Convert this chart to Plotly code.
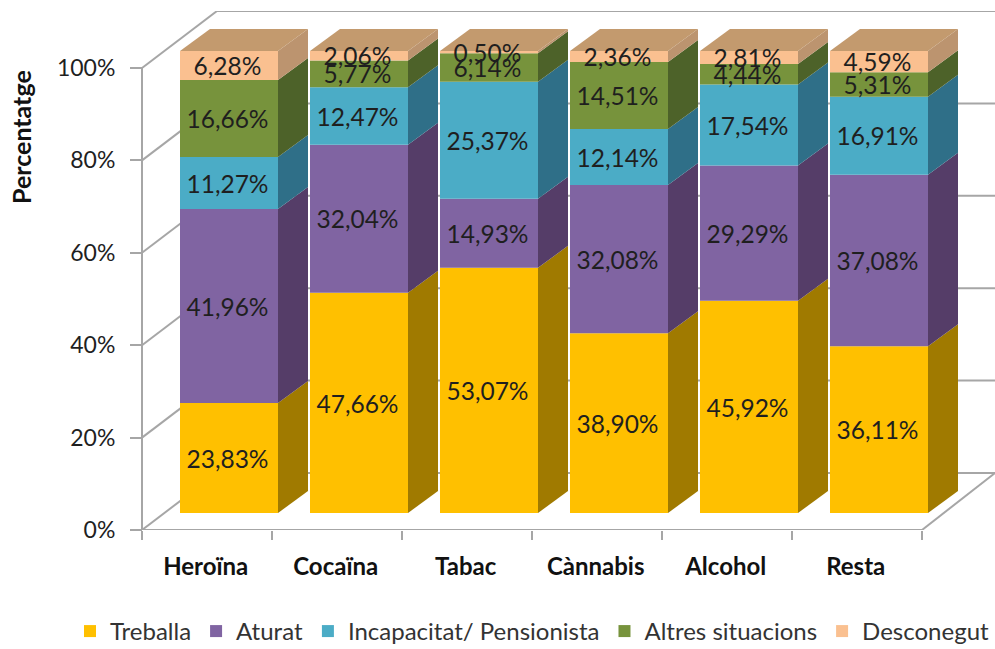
import plotly.graph_objects as go

categories = ["Heroïna", "Cocaïna", "Tabac", "Cànnabis", "Alcohol", "Resta"]
treballa = [23.83, 47.66, 53.07, 38.90, 45.92, 36.11]
aturat = [41.96, 32.04, 14.93, 32.08, 29.29, 37.08]
incapacitat = [11.27, 12.47, 25.37, 12.14, 17.54, 16.91]
altres = [16.66, 5.77, 6.14, 14.51, 4.44, 5.31]
desconegut = [6.28, 2.06, 0.50, 2.36, 2.81, 4.59]
y_ticks = [0, 20, 40, 60, 80, 100]

series = [
    ("Treballa", treballa, "#FFC000", "#A07A00"),
    ("Aturat", aturat, "#8064A2", "#553D68"),
    ("Incapacitat/ Pensionista", incapacitat, "#4BACC6", "#2F6F88"),
    ("Altres situacions", altres, "#77933C", "#4D6229"),
    ("Desconegut", desconegut, "#FAC090", "#BC946F"),
]
TOP_COLOR = "#C39A6E"
GRID = "#A6A6A6"
TEXT = "#1F1F1F"
FONT = "Lato"

# scale of the axes, in pixels per unit
W, H = 995, 649
AX_L, M_B, M_T = 142, 119, 11
PX_X, PX_Y = 130.0, 4.62
x_min = -AX_L / PX_X
x_max = (W - AX_L) / PX_X
y_max = (H - M_B - M_T) / PX_Y

# oblique projection expressed in axis units
wall_dx, wall_dy = 75 / PX_X, 57 / PX_Y
bar_off_x, bar_off_y = 38 / PX_X, 17 / PX_Y
bar_w = 98 / PX_X
depth_dx, depth_dy = 30 / PX_X, 22 / PX_Y
label_dx = -1.5 / PX_X
label_dy = -3.5 / PX_Y

fig = go.Figure()
n = len(categories)
lefts = [i + bar_off_x for i in range(n)]
centers = [l + bar_w / 2 for l in lefts]

# walls and floor
shapes = []
def seg(x0, y0, x1, y1):
    shapes.append(dict(type="line", x0=x0, y0=y0, x1=x1, y1=y1, layer="below",
                       line=dict(color=GRID, width=2)))
for t in y_ticks:
    seg(0, t, wall_dx, t + wall_dy)
    seg(wall_dx, t + wall_dy, x_max, t + wall_dy)
seg(n, 0, x_max, wall_dy)

# axis lines
fig.add_trace(go.Scatter(x=[0, 0, n], y=[y_ticks[-1], 0, 0], mode="lines",
                         line=dict(color=GRID, width=2), cliponaxis=False,
                         showlegend=False, hoverinfo="skip"))

# front faces and side faces
cum = [bar_off_y] * n
label_traces = []
for name, vals, col, side in series:
    fig.add_trace(go.Bar(
        x=centers, y=vals, base=cum[:], width=bar_w, name=name,
        marker=dict(color=col, line=dict(width=0)),
        hoverinfo="skip",
    ))
    for i in range(n):
        xr = lefts[i] + bar_w
        y0, y1 = cum[i], cum[i] + vals[i]
        fig.add_trace(go.Scatter(
            x=[xr, xr + depth_dx, xr + depth_dx, xr, xr],
            y=[y0, y0 + depth_dy, y1 + depth_dy, y1, y0],
            mode="lines", fill="toself", fillcolor=side, line=dict(width=0),
            showlegend=False, hoverinfo="skip"))
    label_traces.append(go.Scatter(
        x=[c + label_dx for c in centers],
        y=[c + v / 2 + label_dy for c, v in zip(cum, vals)],
        mode="text",
        text=[f"{v:.2f}".replace(".", ",") + "%" for v in vals],
        textposition="middle center",
        textfont=dict(family=FONT, size=24.5, color=TEXT),
        showlegend=False, hoverinfo="skip"))
    cum = [c + v for c, v in zip(cum, vals)]

# top faces
for i in range(n):
    xl, xr = lefts[i], lefts[i] + bar_w
    t = cum[i]
    fig.add_trace(go.Scatter(
        x=[xl, xr, xr + depth_dx, xl + depth_dx, xl],
        y=[t, t, t + depth_dy, t + depth_dy, t],
        mode="lines", fill="toself", fillcolor=TOP_COLOR, line=dict(width=0),
        showlegend=False, hoverinfo="skip"))

# data labels go above every face
for tr in label_traces:
    fig.add_trace(tr)

fig.update_layout(
    width=W, height=H, autosize=False,
    margin=dict(l=0, r=0, t=M_T, b=M_B, pad=0),
    paper_bgcolor="white", plot_bgcolor="white",
    barmode="overlay", shapes=shapes,
    font=dict(family=FONT, color=TEXT),
    xaxis=dict(range=[x_min, x_max], tickmode="array",
               tickvals=[i + 0.49 for i in range(n)], ticktext=categories,
               ticks="", ticklabelstandoff=20, showgrid=False, zeroline=False, showline=False,
               tickfont=dict(family=FONT, size=24, color="#111111", weight="bold"),
               minor=dict(tickmode="array", tickvals=list(range(n + 1)), ticks="outside",
                          ticklen=9, tickwidth=2, tickcolor=GRID, showgrid=False)),
    yaxis=dict(range=[0, y_max], tickmode="array", tickvals=y_ticks,
               anchor="free", position=AX_L / W,
               ticktext=[f"{t}%" for t in y_ticks], ticks="outside", ticklen=12,
               tickwidth=2, tickcolor=GRID, ticklabelstandoff=10,
               showgrid=False, zeroline=False, showline=False,
               tickfont=dict(family=FONT, size=23, color=TEXT)),
    legend=dict(orientation="h", x=83 / W, xanchor="left", y=0.027, yanchor="middle",
                yref="container", traceorder="normal", font=dict(family=FONT, size=24, color="#333333"),
                bgcolor="rgba(0,0,0,0)"),
    annotations=[dict(text="<b>Percentatge</b>", xref="paper", yref="paper",
                      x=21 / W, y=(H - M_B - 137) / (H - M_B - M_T),
                      showarrow=False, textangle=-90, xanchor="center", yanchor="middle",
                      font=dict(family=FONT, size=25, color="#111111"))],
)
fig.write_html("out.html", config={"displayModeBar": False},
               post_script="document.body.style.margin='0';")
